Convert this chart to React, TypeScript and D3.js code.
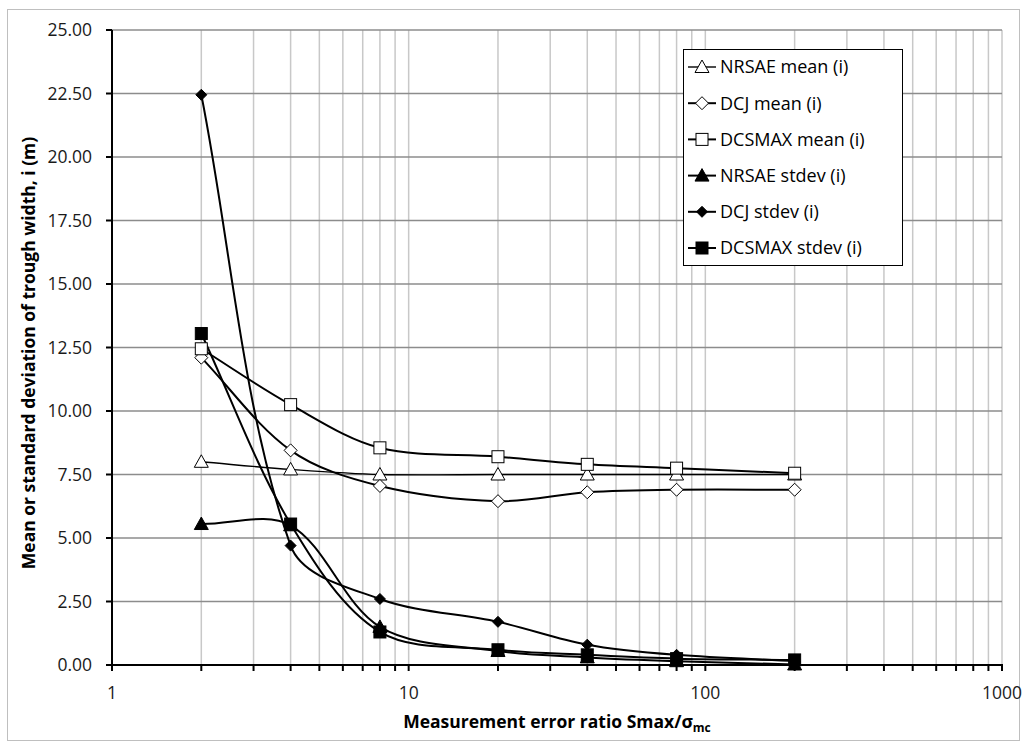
import React, { useEffect, useRef } from "react";
import * as d3 from "d3";

// x positions (measurement error ratio)
const ratios = [2, 4, 8, 20, 40, 80, 200];

const nrsaeMean = [8.0, 7.7, 7.5, 7.5, 7.5, 7.5, 7.5];
const dcjMean = [12.1, 8.45, 7.05, 6.45, 6.8, 6.9, 6.9];
const dcsmaxMean = [12.45, 10.25, 8.55, 8.2, 7.9, 7.75, 7.55];
const nrsaeStdev = [5.55, 5.5, 1.5, 0.55, 0.3, 0.15, 0.02];
const dcjStdev = [22.45, 4.7, 2.6, 1.7, 0.8, 0.4, 0.15];
const dcsmaxStdev = [13.05, 5.55, 1.3, 0.6, 0.4, 0.25, 0.2];

const yTicks = [0, 2.5, 5, 7.5, 10, 12.5, 15, 17.5, 20, 22.5, 25];
const xMajor = [1, 10, 100, 1000];

const series = [
  { name: "NRSAE mean (i)", values: nrsaeMean, marker: "triangle", filled: false, width: 1.4 },
  { name: "DCJ mean (i)", values: dcjMean, marker: "diamond", filled: false, width: 2 },
  { name: "DCSMAX mean (i)", values: dcsmaxMean, marker: "square", filled: false, width: 2 },
  { name: "NRSAE stdev (i)", values: nrsaeStdev, marker: "triangle", filled: true, width: 2 },
  { name: "DCJ stdev (i)", values: dcjStdev, marker: "diamond", filled: true, width: 2 },
  { name: "DCSMAX stdev (i)", values: dcsmaxStdev, marker: "square", filled: true, width: 2 },
];

const FONT = "'Open Sans', sans-serif";

// spreadsheet-style smoothing: tangents scaled by neighbouring segment lengths
function smoothPath(pts: [number, number][]) {
  const p = d3.path();
  const n = pts.length;
  const dist = (a: [number, number], b: [number, number]) =>
    Math.hypot(b[0] - a[0], b[1] - a[1]);
  const ctrl = pts.map((pt, i) => {
    const prev = pts[Math.max(0, i - 1)];
    const next = pts[Math.min(n - 1, i + 1)];
    const d0 = dist(prev, pt);
    const d1 = dist(pt, next);
    const tx = next[0] - prev[0];
    const ty = next[1] - prev[1];
    const sum = d0 + d1 || 1;
    const fb = d0 / sum / 3;
    const fa = d1 / sum / 3;
    return {
      before: [pt[0] - tx * fb, pt[1] - ty * fb],
      after: [pt[0] + tx * fa, pt[1] + ty * fa],
    };
  });
  p.moveTo(pts[0][0], pts[0][1]);
  for (let i = 0; i < n - 1; i++) {
    const c1 = ctrl[i].after;
    const c2 = ctrl[i + 1].before;
    p.bezierCurveTo(c1[0], c1[1], c2[0], c2[1], pts[i + 1][0], pts[i + 1][1]);
  }
  return p.toString();
}

function drawMarker(g: any, kind: string, filled: boolean, x: number, y: number) {
  const fill = filled ? "#000" : "#fff";
  if (kind === "triangle") {
    g.append("path")
      .attr("d", `M${x},${y - 7}L${x + 7},${y + 5.5}L${x - 7},${y + 5.5}Z`)
      .attr("fill", fill)
      .attr("stroke", "#000")
      .attr("stroke-width", 1);
  } else if (kind === "diamond") {
    const r = filled ? 5.5 : 6.5;
    g.append("path")
      .attr("d", `M${x},${y - r}L${x + r},${y}L${x},${y + r}L${x - r},${y}Z`)
      .attr("fill", fill)
      .attr("stroke", "#000")
      .attr("stroke-width", 1);
  } else {
    const s = 12;
    g.append("rect")
      .attr("x", x - s / 2)
      .attr("y", y - s / 2)
      .attr("width", s)
      .attr("height", s)
      .attr("fill", fill)
      .attr("stroke", "#000")
      .attr("stroke-width", 1);
  }
}

const App = () => {
  const svgRef = useRef<SVGSVGElement | null>(null);

  useEffect(() => {
    const width = 1027;
    const height = 749;
    const svg = d3.select(svgRef.current);
    svg.selectAll("*").remove();
    svg.attr("width", width).attr("height", height);

    const left = 112;
    const right = 1002;
    const top = 30;
    const bottom = 665;

    const x = d3.scaleLog().domain([1, 1000]).range([left, right]);
    const y = d3.scaleLinear().domain([0, 25]).range([bottom, top]);

    // chart area border
    svg
      .append("rect")
      .attr("x", 7.5)
      .attr("y", 9.5)
      .attr("width", 1012)
      .attr("height", 731)
      .attr("fill", "#fff")
      .attr("stroke", "#bfbfbf")
      .attr("stroke-width", 1);

    // all log ticks 1..1000
    const logTicks: number[] = [];
    for (let d = 1; d < 1000; d *= 10) {
      for (let k = 1; k < 10; k++) logTicks.push(d * k);
    }
    logTicks.push(1000);

    // vertical grid
    svg
      .append("g")
      .selectAll("line")
      .data(logTicks.filter((t) => t > 1))
      .enter()
      .append("line")
      .attr("x1", (d) => x(d))
      .attr("x2", (d) => x(d))
      .attr("y1", top)
      .attr("y2", bottom)
      .attr("stroke", "#c8c8c8")
      .attr("stroke-width", 1.5);

    // horizontal grid
    svg
      .append("g")
      .selectAll("line")
      .data(yTicks.filter((t) => t > 0))
      .enter()
      .append("line")
      .attr("x1", left)
      .attr("x2", right)
      .attr("y1", (d) => y(d))
      .attr("y2", (d) => y(d))
      .attr("stroke", "#8c8c8c")
      .attr("stroke-width", 1.3);

    // axes
    const axisG = svg.append("g");
    axisG
      .append("line")
      .attr("x1", left)
      .attr("x2", left)
      .attr("y1", top)
      .attr("y2", bottom + 1)
      .attr("stroke", "#000")
      .attr("stroke-width", 2);
    axisG
      .append("line")
      .attr("x1", left - 6)
      .attr("x2", right + 1)
      .attr("y1", bottom)
      .attr("y2", bottom)
      .attr("stroke", "#000")
      .attr("stroke-width", 2);

    axisG
      .selectAll(".ytick")
      .data(yTicks)
      .enter()
      .append("line")
      .attr("x1", left - 6)
      .attr("x2", left)
      .attr("y1", (d) => y(d))
      .attr("y2", (d) => y(d))
      .attr("stroke", "#000")
      .attr("stroke-width", 2);

    axisG
      .selectAll(".xtick")
      .data(logTicks)
      .enter()
      .append("line")
      .attr("x1", (d) => x(d))
      .attr("x2", (d) => x(d))
      .attr("y1", bottom)
      .attr("y2", bottom + 6)
      .attr("stroke", "#000")
      .attr("stroke-width", 2);

    axisG
      .selectAll(".ylab")
      .data(yTicks)
      .enter()
      .append("text")
      .attr("x", left - 20)
      .attr("y", (d) => y(d))
      .attr("dy", "0.36em")
      .attr("text-anchor", "end")
      .attr("font-family", FONT)
      .attr("font-size", 17.5)
      .attr("fill", "#1a1a1a")
      .text((d) => d3.format(".2f")(d));

    axisG
      .selectAll(".xlab")
      .data(xMajor)
      .enter()
      .append("text")
      .attr("x", (d) => x(d))
      .attr("y", bottom + 28)
      .attr("dy", "0.36em")
      .attr("text-anchor", "middle")
      .attr("font-family", FONT)
      .attr("font-size", 17.5)
      .attr("fill", "#1a1a1a")
      .text((d) => String(d));

    // axis titles
    const xt = svg
      .append("text")
      .attr("x", (left + right) / 2)
      .attr("y", 728)
      .attr("text-anchor", "middle")
      .attr("font-family", FONT)
      .attr("font-size", 17.5)
      .attr("font-weight", "bold")
      .attr("fill", "#000");
    xt.append("tspan").text("Measurement error ratio Smax/σ");
    xt.append("tspan").attr("font-size", 12).attr("dy", 4).text("mc");

    svg
      .append("text")
      .attr("transform", `translate(35, 353) rotate(-90)`)
      .attr("text-anchor", "middle")
      .attr("font-family", FONT)
      .attr("font-size", 17.5)
      .attr("font-weight", "bold")
      .attr("fill", "#000")
      .text("Mean or standard deviation of trough width, i (m)");

    // series lines (smoothed) and markers
    const plot = svg.append("g");
    series.forEach((s) => {
      const pts = s.values.map((v, i) => [x(ratios[i]), y(v)] as [number, number]);
      plot
        .append("path")
        .attr("d", smoothPath(pts))
        .attr("fill", "none")
        .attr("stroke", "#000")
        .attr("stroke-width", s.width);
    });
    series.forEach((s) => {
      s.values.forEach((v, i) => {
        drawMarker(plot, s.marker, s.filled, x(ratios[i]), y(v));
      });
    });

    // legend
    const lgX = 683;
    const lgY = 49;
    const lgW = 219;
    const lgH = 216;
    const legend = svg.append("g");
    legend
      .append("rect")
      .attr("x", lgX + 0.5)
      .attr("y", lgY + 0.5)
      .attr("width", lgW)
      .attr("height", lgH)
      .attr("fill", "#fff")
      .attr("stroke", "#000")
      .attr("stroke-width", 1);
    series.forEach((s, i) => {
      const cy = lgY + 18 + i * 36.2;
      legend
        .append("line")
        .attr("x1", lgX + 5)
        .attr("x2", lgX + 33)
        .attr("y1", cy)
        .attr("y2", cy)
        .attr("stroke", "#000")
        .attr("stroke-width", s.width);
      drawMarker(legend, s.marker, s.filled, lgX + 19, cy);
      legend
        .append("text")
        .attr("x", lgX + 37)
        .attr("y", cy)
        .attr("dy", "0.36em")
        .attr("font-family", FONT)
        .attr("font-size", 18)
        .attr("fill", "#000")
        .text(s.name);
    });
  }, []);

  return (
    <div style={{ position: "absolute", left: 0, top: 0 }}>
      <svg ref={svgRef}></svg>
    </div>
  );
};

export default App;
